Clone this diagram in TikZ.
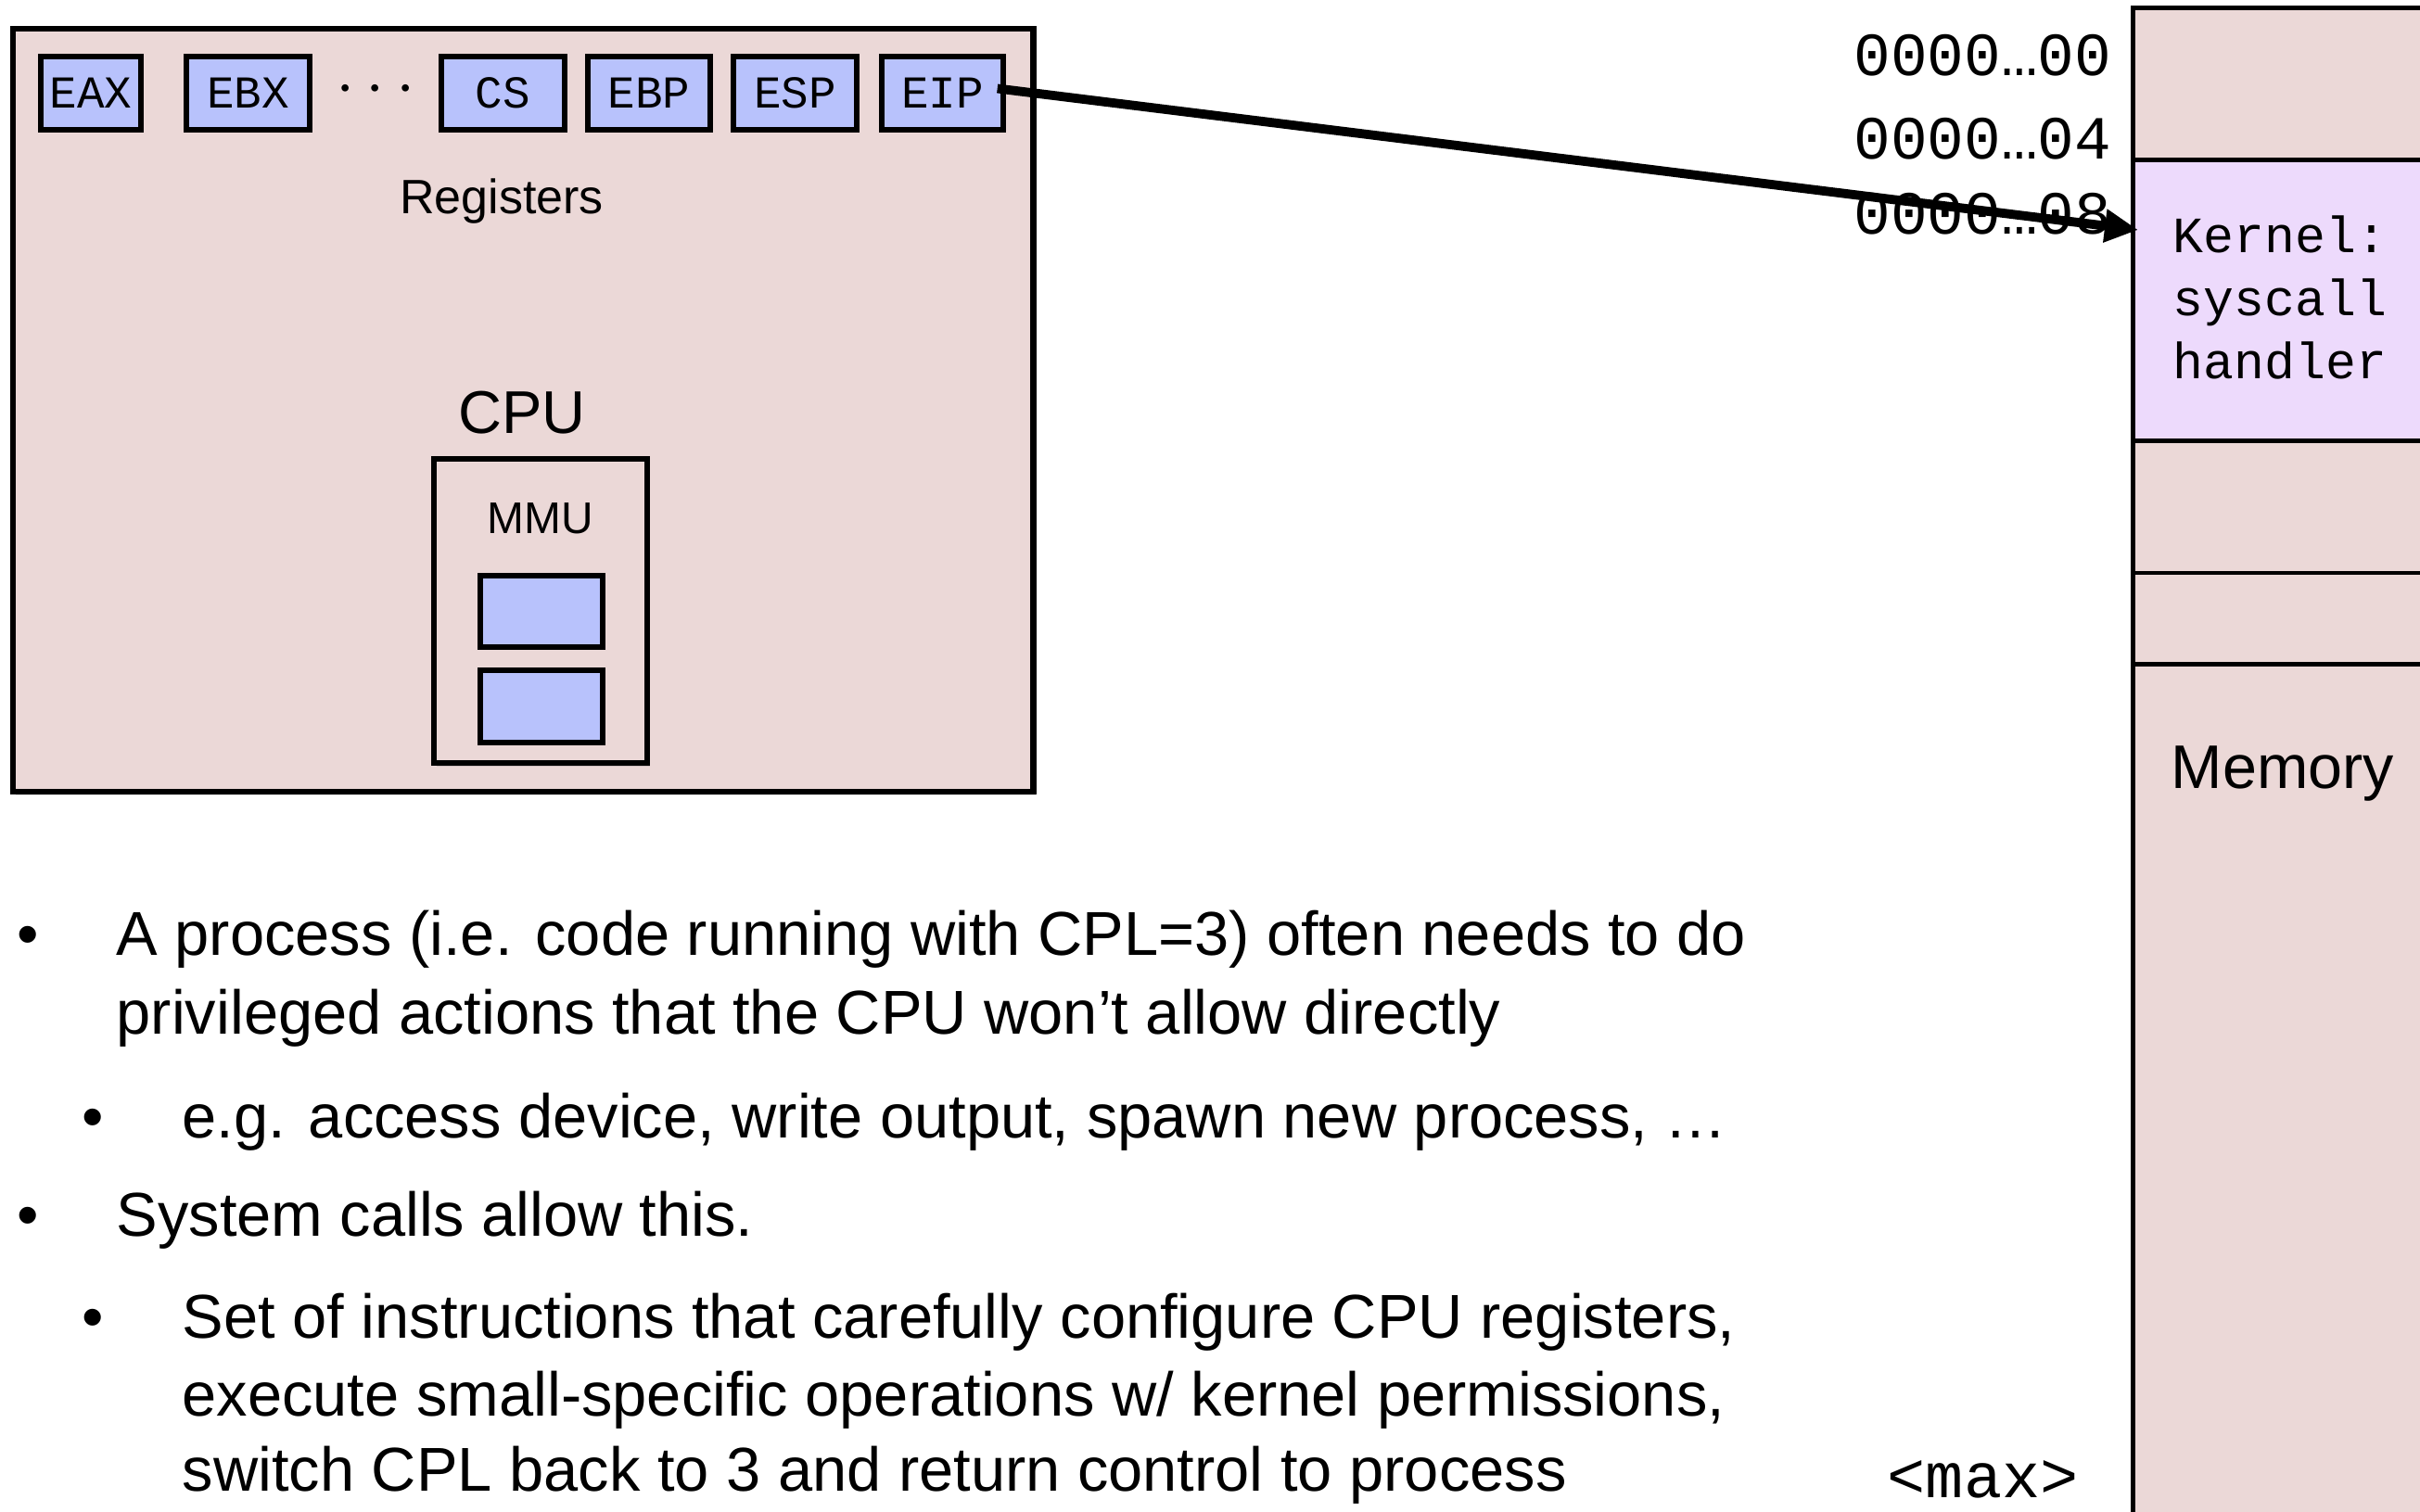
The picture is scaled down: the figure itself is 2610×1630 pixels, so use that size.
\documentclass[tikz,border=0pt]{standalone}
\usepackage{fontspec}
\setmainfont{Liberation Sans}
\setmonofont{Liberation Mono}
\usetikzlibrary{arrows.meta,shadows}
\definecolor{pinkfill}{HTML}{EBD8D7}
\definecolor{regblue}{HTML}{B8C2FC}
\definecolor{kernlav}{HTML}{EDDAFC}
\tikzset{
  softshadow/.style={drop shadow={opacity=0.25,shadow xshift=0.03cm,shadow yshift=-0.04cm}},
  cpubox/.style={draw=black,line width=1.8pt,fill=pinkfill,inner sep=0pt,softshadow},
  regbox/.style={draw=black,line width=1.5pt,fill=regblue,inner sep=0pt,minimum height=0.79cm,
    font=\fontsize{14pt}{16pt}\ttfamily},
  mmubox/.style={draw=black,line width=1.5pt,fill=pinkfill,inner sep=0pt,softshadow},
  membox/.style={draw=black,line width=1.4pt,fill=pinkfill,inner sep=0pt},
  kernbox/.style={draw=black,line width=1.4pt,fill=kernlav,inner sep=0pt},
  addr/.style={inner sep=0pt,anchor=base east,font=\fontsize{18.8pt}{22pt}\ttfamily},
  label/.style={inner sep=0pt,anchor=base},
  bodytext/.style={inner sep=0pt,anchor=base west,font=\fontsize{19pt}{23pt}\selectfont},
  bulletmark/.style={inner sep=0pt,anchor=base west,font=\fontsize{19pt}{23pt}\selectfont},
  ptr/.style={line width=2.8pt,-{Triangle[length=0.36cm,width=0.34cm]}}
}
\begin{document}
\begin{tikzpicture}[x=0.01cm,y=-0.01cm]
\clip (0,0) rectangle (2610,1630);
\useasboundingbox (0,0) rectangle (2610,1630);
% memory column
\node[membox,softshadow,minimum width=3.59cm,minimum height=16.91cm] (mem) at (2480.5,854.5) {};
\node[kernbox,minimum width=3.59cm,minimum height=3.02cm] (kern) at (2480.5,324) {};
\node[membox,minimum width=3.59cm,minimum height=0.98cm] (slot) at (2480.5,667) {};
\node[inner sep=0pt,anchor=base west,align=left,font=\fontsize{15.6pt}{19.2pt}\ttfamily] (kerntext) at (2343,408) {Kernel:\\syscall\\handler};
\node[inner sep=0pt,anchor=base west,font=\fontsize{18.9pt}{22pt}\selectfont] (memlabel) at (2341,850) {Memory};
% addresses
\node[addr] (a0) at (2278,81) {0000…00};
\node[addr] (a4) at (2278,171) {0000…04};
\node[addr] (a8) at (2278,252) {0000…08};
\node[inner sep=0pt,anchor=base west,font=\fontsize{19.5pt}{22pt}\ttfamily] (maxlabel) at (2035,1615) {<max>};
% CPU
\node[cpubox,minimum width=11.00cm,minimum height=8.23cm] (cpu) at (564,442.5) {};
\node[regbox,minimum width=1.08cm] (eax) at (98,100.5) {EAX};
\node[regbox,minimum width=1.33cm] (ebx) at (267.5,100.5) {EBX};
\node[inner sep=0pt,font=\fontsize{22pt}{24pt}\selectfont] (dots) at (405,97) {$\cdots$};
\node[regbox,minimum width=1.33cm] (cs) at (542.5,100.5) {CS};
\node[regbox,minimum width=1.32cm] (ebp) at (700,100.5) {EBP};
\node[regbox,minimum width=1.33cm] (esp) at (857.5,100.5) {ESP};
\node[regbox,minimum width=1.31cm] (eip) at (1016.5,100.5) {EIP};
\node[label,font=\fontsize{14.8pt}{17pt}\selectfont] (reglabel) at (541,230) {Registers};
\node[label,font=\fontsize{18.5pt}{21pt}\selectfont] (cpulabel) at (563,467) {CPU};
\node[mmubox,minimum width=2.30cm,minimum height=3.28cm] (mmu) at (583,659) {};
\node[label,font=\fontsize{13.6pt}{16pt}\selectfont] (mmulabel) at (583,575) {MMU};
\node[regbox,minimum width=1.32cm,minimum height=0.77cm] (m1) at (584,659.5) {};
\node[regbox,minimum width=1.32cm,minimum height=0.78cm] (m2) at (584,762) {};
% arrow
\coordinate (tip) at (2306,248);
\draw[ptr] ([xshift=-0.09cm,yshift=0.05cm]eip.east) -- (tip);
% bullets
\node[bulletmark] (b1) at (18,1030) {•};
\node[bodytext] (t1) at (125,1030) {A process (i.e. code running with CPL=3) often needs to do};
\node[bodytext] (t2) at (125,1115) {privileged actions that the CPU won’t allow directly};
\node[bulletmark] (b2) at (88,1227) {•};
\node[bodytext] (t3) at (196,1227) {e.g. access device, write output, spawn new process, …};
\node[bulletmark] (b3) at (18,1333) {•};
\node[bodytext] (t4) at (125,1333) {System calls allow this.};
\node[bulletmark] (b4) at (88,1443) {•};
\node[bodytext] (t5) at (196,1443) {Set of instructions that carefully configure CPU registers,};
\node[bodytext] (t6) at (196,1527) {execute small-specific operations w/ kernel permissions,};
\node[bodytext] (t7) at (196,1608) {switch CPL back to 3 and return control to process};
\end{tikzpicture}
\end{document}
